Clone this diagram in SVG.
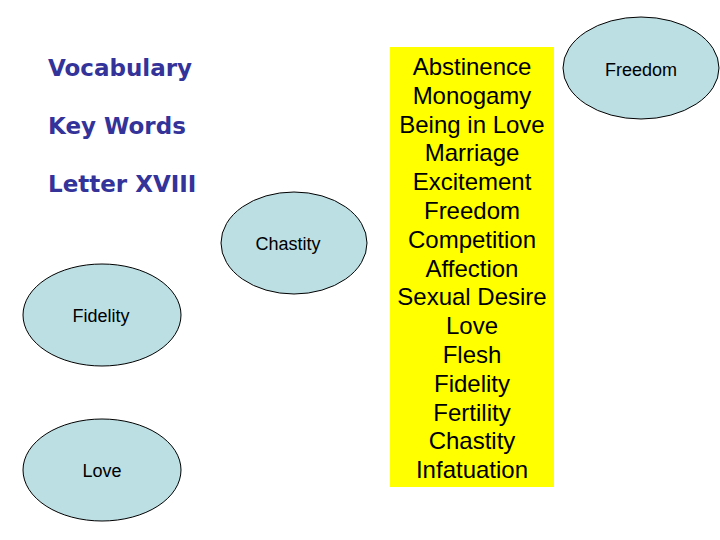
<svg xmlns="http://www.w3.org/2000/svg" width="720" height="540" viewBox="0 0 720 540">
<style>
.head{font-family:"DejaVu Sans",Verdana,sans-serif;font-weight:bold;font-size:23px;fill:#333399}
.node ellipse{fill:#bcdfe4;stroke:#000;stroke-width:1}
.node text{font-family:"Liberation Sans",Arial,sans-serif;font-size:18px;fill:#000;text-anchor:middle}
.list text{font-family:"Liberation Sans",Arial,sans-serif;font-size:24px;fill:#000;text-anchor:middle}
</style>
<rect width="720" height="540" fill="#fff"/>
<g id="headings">
<text class="head" x="48" y="76">Vocabulary</text>
<text class="head" x="48" y="134">Key Words</text>
<text class="head" x="48" y="192">Letter XVIII</text>
</g>
<g id="wordlist" class="list">
<rect x="390" y="47" width="164" height="440" fill="#ffff00"/>
<text x="472" y="75">Abstinence</text>
<text x="472" y="103.8">Monogamy</text>
<text x="472" y="132.6">Being in Love</text>
<text x="472" y="161.4">Marriage</text>
<text x="472" y="190.2">Excitement</text>
<text x="472" y="219">Freedom</text>
<text x="472" y="247.8">Competition</text>
<text x="472" y="276.6">Affection</text>
<text x="472" y="305.4">Sexual Desire</text>
<text x="472" y="334.2">Love</text>
<text x="472" y="363">Flesh</text>
<text x="472" y="391.8">Fidelity</text>
<text x="472" y="420.6">Fertility</text>
<text x="472" y="449.4">Chastity</text>
<text x="472" y="478.2">Infatuation</text>
</g>
<g id="node-freedom" class="node">
<ellipse cx="641" cy="68" rx="78" ry="51"/>
<text x="641" y="75.5">Freedom</text>
</g>
<g id="node-chastity" class="node">
<ellipse cx="294" cy="243" rx="73" ry="51"/>
<text x="288" y="250">Chastity</text>
</g>
<g id="node-fidelity" class="node">
<ellipse cx="102" cy="315" rx="79" ry="51"/>
<text x="101" y="322">Fidelity</text>
</g>
<g id="node-love" class="node">
<ellipse cx="102" cy="470" rx="79" ry="51"/>
<text x="102" y="477">Love</text>
</g>
<g id="connectors"></g>
</svg>
